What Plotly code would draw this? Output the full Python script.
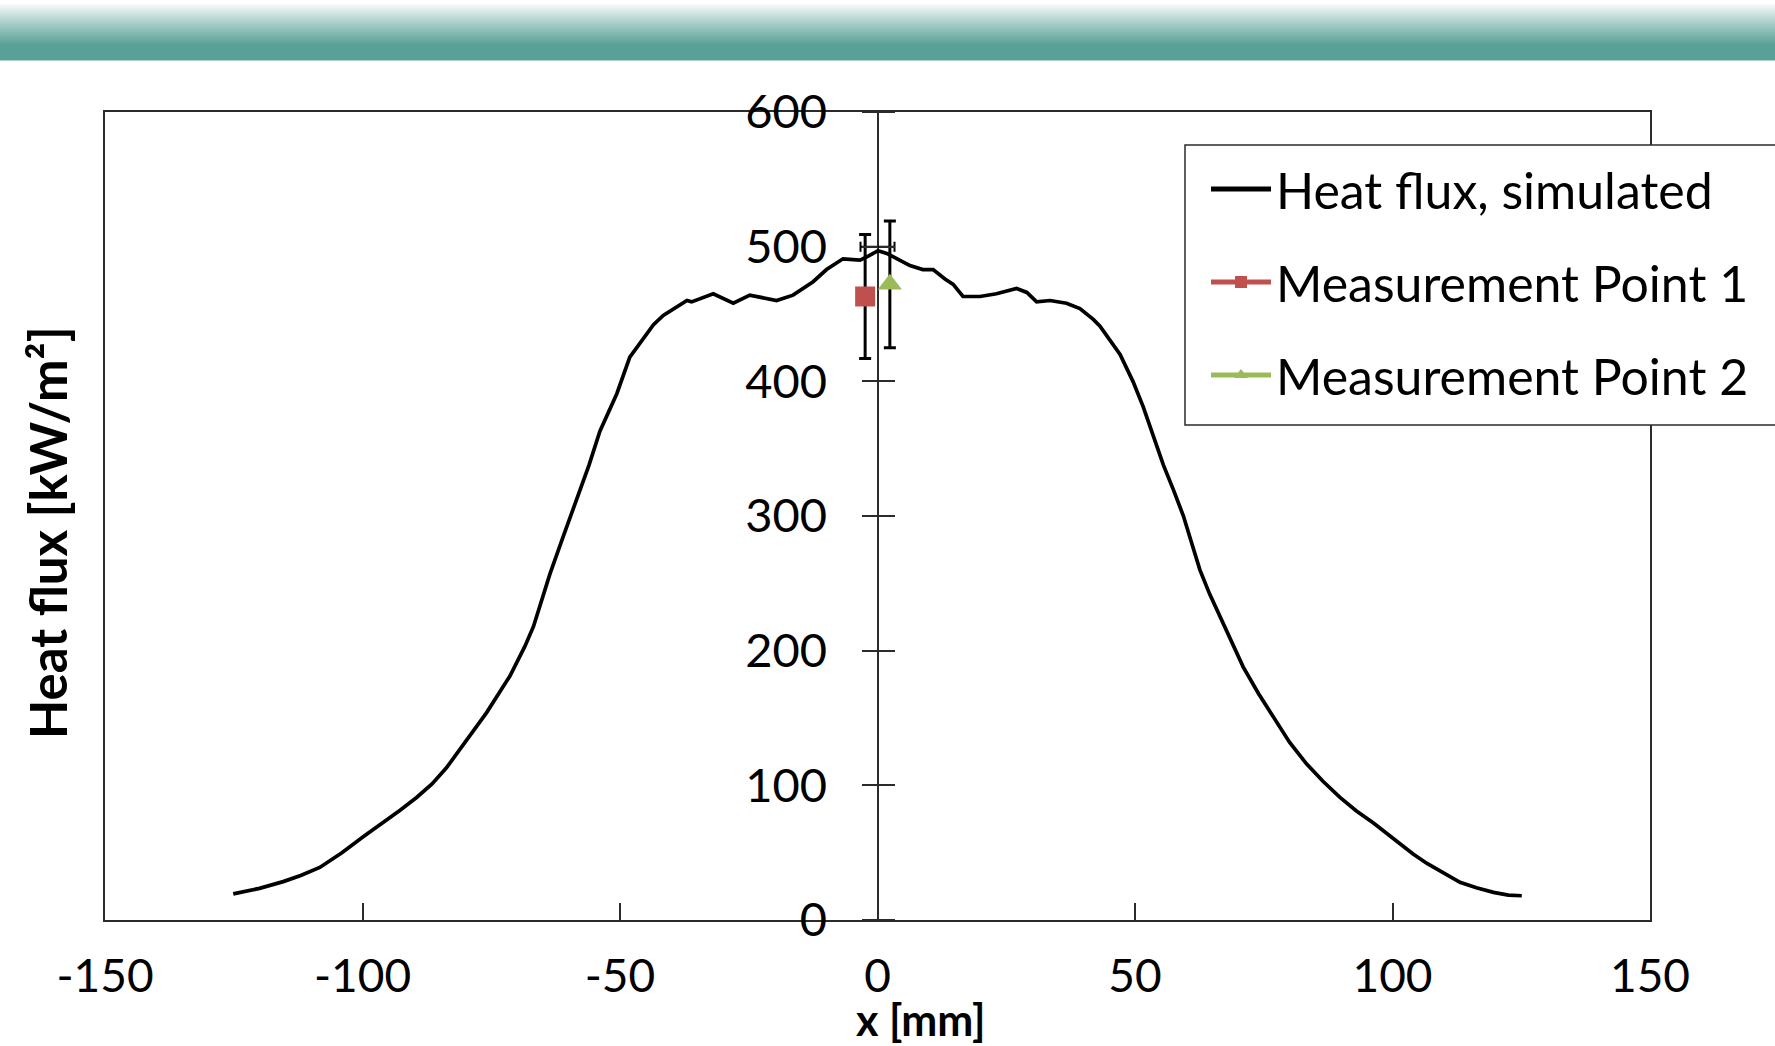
import plotly.graph_objects as go

# ---------------- data ----------------
x_mm = [-125.1, -120.0, -115.4, -112.0, -108.3, -104.0, -99.8, -96.0, -92.7, -89.5, -86.5, -83.7, -80.0, -75.9,
        -71.4, -68.5, -66.8, -63.6, -61.0, -58.4, -56.0, -53.9, -50.6, -48.1, -45.5, -43.5, -41.6,
        -37.0, -36.1, -31.9, -28.0, -24.8, -19.6, -16.4, -12.5, -9.9, -6.7, -3.4, -1.8, 0.1,
        1.8, 3.7, 6.3, 8.8, 10.8, 13.1, 14.7, 16.6, 19.9, 23.1, 27.0, 29.0, 30.9, 33.5, 36.7, 39.3, 41.9,
        43.2, 44.5, 47.1, 49.6, 51.6, 53.5, 55.5, 57.5, 59.4, 61.0, 62.6, 64.5, 66.5, 68.7, 71.0, 74.0, 76.9,
        80.0, 83.3, 86.5, 89.8, 93.0, 96.3, 98.9, 101.5, 104.0, 106.7, 110.0, 113.1, 116.3, 119.6, 122.5, 125.1]
heat_flux = [19.4, 23.5, 28.5, 33, 39, 50, 62, 72, 81.5, 91, 101, 113, 132, 154,
             181, 203, 218, 257, 285, 312, 338, 363, 391, 418, 432, 442, 449,
             460, 459, 465, 458, 464, 460, 464, 474, 483, 491, 490, 493, 497,
             495, 491, 486, 483, 483, 476, 472, 463, 463, 465, 469, 466, 459, 460, 458, 454, 446,
             441, 434, 420, 400, 381, 360, 338, 319, 300, 280, 260, 242, 225, 206, 188, 168, 150,
             132, 116, 103, 91, 81, 72, 64, 56, 49, 42, 35, 28, 24, 20.5, 18.5, 18]

mp1_x = [-2.4]
mp1_y = [463]
mp1_err = [46]

mp2_x = [2.4]
mp2_y = [472]
mp2_err = [47]

hbar_x = [0]
hbar_y = [500]
hbar_err = [3.3]

x_ticks = [-150, -100, -50, 0, 50, 100, 150]
x_tick_text = ["-150", "-100", "-50", "0", "50", "100", "150"]
y_ticks = [0, 100, 200, 300, 400, 500, 600]
y_tick_text = ["0", "100", "200", "300", "400", "500", "600"]

series_names = ["Heat flux, simulated", "Measurement Point 1", "Measurement Point 2"]

# ---------------- layout geometry (pixels) ----------------
W, H = 1775, 1046
L, R, T, B = 105, 1650, 112, 920
FONT = "Lato, sans-serif"
AX = "#2b2b2b"


def px_x(X):
    return (X - L) / (R - L)


def px_y(Y):
    return (B - Y) / (B - T)


fig = go.Figure()

fig.add_trace(go.Scatter(x=x_mm, y=heat_flux, mode="lines", name=series_names[0], yaxis="y",
                         line=dict(color="black", width=3.7), legendgroup="a"))
fig.add_trace(go.Scatter(x=hbar_x, y=hbar_y, mode="markers", showlegend=False, yaxis="y3",
                         marker=dict(size=1, color="rgba(0,0,0,0)"),
                         error_x=dict(type="data", array=hbar_err, color="black", thickness=2, width=5)))
fig.add_trace(go.Scatter(x=mp1_x, y=mp1_y, mode="lines+markers", name=series_names[1], legendgroup="b",
                         yaxis="y2",
                         line=dict(color="#C0504D", width=3),
                         marker=dict(symbol="square", size=20, color="#C0504D"),
                         error_y=dict(type="data", array=mp1_err, color="black", thickness=3, width=6)))
fig.add_trace(go.Scatter(x=mp2_x, y=mp2_y, mode="lines+markers", name=series_names[2], legendgroup="c",
                         yaxis="y2",
                         line=dict(color="#9BBB59", width=3),
                         marker=dict(symbol="triangle-up", size=21, color="#9BBB59"),
                         error_y=dict(type="data", array=mp2_err, color="black", thickness=3, width=6)))

# banner gradient at the top
teal = (89, 160, 150)
shapes = []
Y0, Y1, YS = 2, 44, 59
step = 2
for yy in range(0, YS, step):
    t = min(max((yy - Y0) / (Y1 - Y0), 0), 1)
    t = t ** 0.9
    c = tuple(round(255 * (1 - t) + teal[i] * t) for i in range(3))
    shapes.append(dict(type="rect", xref="paper", yref="paper",
                       x0=px_x(-5), x1=px_x(W + 5), y0=px_y(yy + step + 0.5), y1=px_y(yy),
                       fillcolor="rgb(%d,%d,%d)" % c, line=dict(width=0), layer="above"))
# legend box (extends beyond right edge)
shapes.append(dict(type="rect", xref="paper", yref="paper",
                   x0=px_x(1185), x1=px_x(W + 40), y0=px_y(425), y1=px_y(145),
                   fillcolor="white", line=dict(color=AX, width=1.5), layer="above"))

common_y = dict(range=[0, 600], showgrid=False, zeroline=False)

fig.update_layout(
    width=W, height=H,
    margin=dict(l=L, r=W - R, t=T, b=H - B),
    paper_bgcolor="white", plot_bgcolor="white",
    font=dict(family=FONT, color="black", size=40),
    shapes=shapes,
    showlegend=True,
    legend=dict(x=px_x(1206), y=px_y(150), xanchor="left", yanchor="top",
                bgcolor="rgba(0,0,0,0)", borderwidth=0, itemwidth=60,
                font=dict(family=FONT, size=50, color="black"),
                traceorder="grouped", tracegroupgap=25, itemsizing="constant"),
    xaxis=dict(range=[-150, 150], tickvals=x_ticks, ticktext=x_tick_text, ticks="inside", ticklen=17,
               tickwidth=1.5, tickcolor=AX, showline=True, linecolor=AX, linewidth=1.5, mirror=True,
               zeroline=True, zerolinecolor=AX, zerolinewidth=1.5, showgrid=False,
               tickfont=dict(family=FONT, size=46), ticklabelstandoff=15),
    # labelled axis through x = 0 (ticks crossing, outer half)
    yaxis=dict(anchor="free", position=0.5, side="left", tickvals=y_ticks, ticktext=y_tick_text,
               ticks="outside", ticklen=16, tickwidth=1.5, tickcolor=AX, showline=False,
               tickfont=dict(family=FONT, size=47), ticklabelstandoff=25, **common_y),
    # frame
    yaxis2=dict(overlaying="y", anchor="x", side="left", showline=True, linecolor=AX, linewidth=1.5,
                mirror=True, ticks="", showticklabels=False, **common_y),
    # inner half of crossing ticks
    yaxis3=dict(overlaying="y", anchor="free", position=0.5, side="right", tickvals=y_ticks,
                ticks="outside", ticklen=16, tickwidth=1.5, tickcolor=AX,
                showticklabels=False, showline=False, **common_y),
    annotations=[
        dict(text="<b>Heat flux [kW/m²]</b>", xref="paper", yref="paper",
             x=px_x(47), y=px_y(533), textangle=-90, showarrow=False,
             xanchor="center", yanchor="middle", font=dict(family=FONT, size=51)),
        dict(text="<b>x [mm]</b>", xref="paper", yref="paper",
             x=px_x(921), y=px_y(1019), showarrow=False,
             xanchor="center", yanchor="middle", font=dict(family=FONT, size=43)),
    ],
)

fig.write_html("out.html")
